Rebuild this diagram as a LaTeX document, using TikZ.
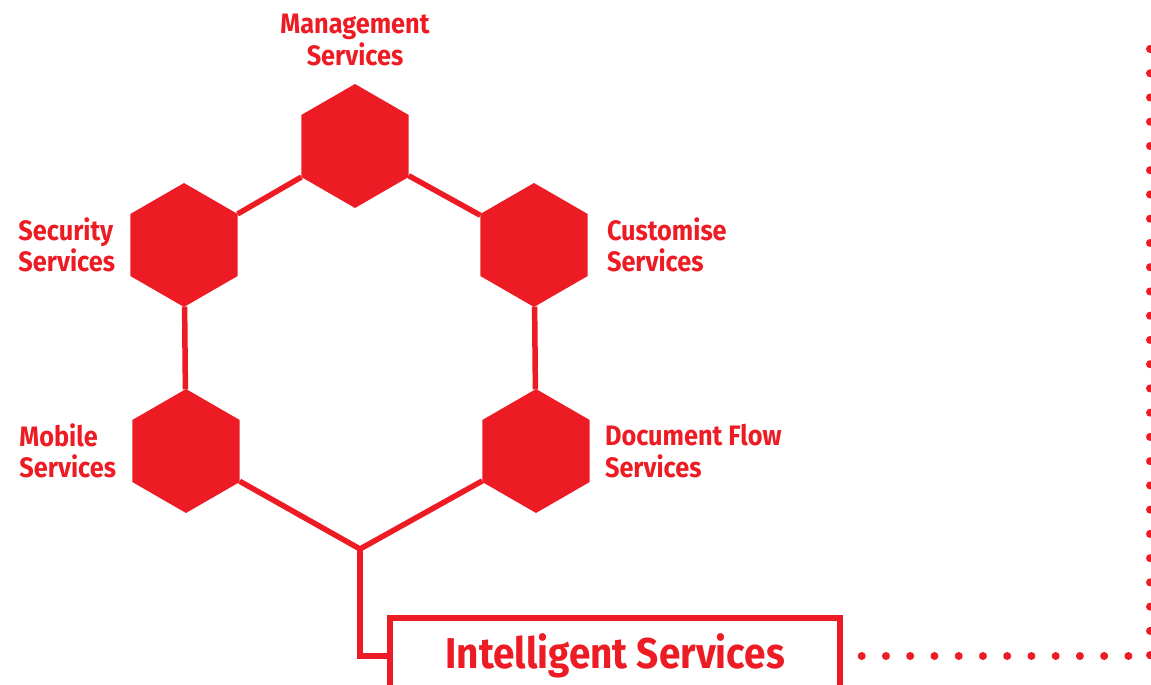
\documentclass[tikz,border=0pt]{standalone}
\usepackage{fontspec}
\setmainfont{Fira Sans}[FakeStretch=0.9]
\usetikzlibrary{shapes.geometric,positioning,backgrounds}
\definecolor{brandred}{RGB}{237,28,36}

\begin{document}
\begin{tikzpicture}[x=0.02cm,y=-0.02cm,
    hexa/.style={regular polygon,regular polygon sides=6,shape border rotate=30,
      minimum size=2.48cm,inner sep=0pt,outer sep=0pt,fill=brandred},
    svclabel/.style={text=brandred,font=\fontsize{16}{18}\selectfont\bfseries,
      inner sep=0pt,align=left},
    link/.style={draw=brandred,line width=0.11cm},
    dotrow/.style={draw=brandred,line width=0.16cm,line cap=round,
      dash pattern=on 0pt off 0.485cm}]
  \useasboundingbox (0,0) rectangle (1151,685);
  \node[hexa] (mgmt) at (355,146) {};
  \node[hexa] (sec) at (184,245) {};
  \node[hexa] (cust) at (534,245) {};
  \node[hexa] (mob) at (186,451) {};
  \node[hexa] (doc) at (536,451) {};
  \coordinate (junc) at (360,549);
  \node[svclabel,align=center,above=0.36cm of mgmt] (mgmtlbl) {Management\\Services};
  \node[svclabel,left=0.3cm of sec] (seclbl) {Security\\Services};
  \node[svclabel,right=0.38cm of cust] (custlbl) {Customise\\Services};
  \node[svclabel,left=0.32cm of mob] (moblbl) {Mobile\\Services};
  \node[svclabel,right=0.3cm of doc] (doclbl) {Document Flow\\Services};
  \node[draw=brandred,line width=0.11cm,minimum width=9cm,minimum height=1.52cm,
    text=brandred,font=\fontsize{24.5}{28}\selectfont\bfseries] (intel) at (615,656)
    {Intelligent Services};
  \begin{scope}[on background layer]
    \draw[link] (sec) -- (mgmt) -- (cust) -- (doc) -- (junc) -- (mob) -- (sec);
  \end{scope}
  \draw[link] (junc) |- (intel.west);
  \coordinate (dotcorner) at (1150,656);
  \coordinate (dottop) at (1150,49);
  \draw[dotrow] ([xshift=0.38cm]intel.east) -- (dotcorner);
  \draw[dotrow] (dottop) -- (dotcorner);
\end{tikzpicture}
\end{document}
